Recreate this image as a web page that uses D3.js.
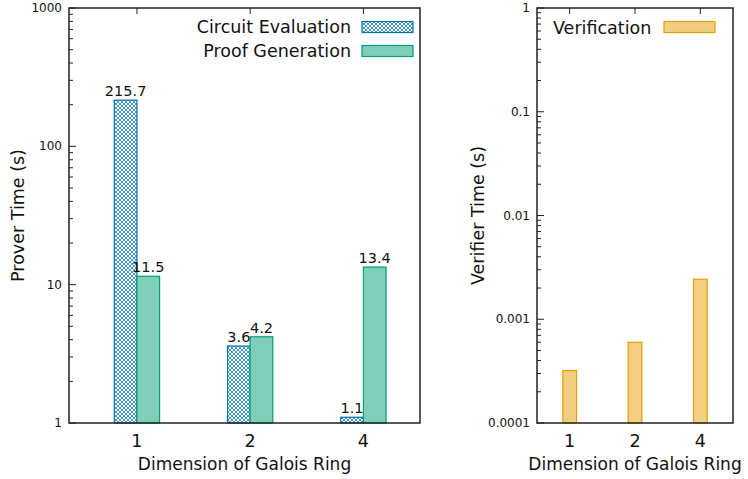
<!DOCTYPE html>
<html>
<head>
<meta charset="utf-8">
<script src="https://cdn.jsdelivr.net/npm/d3@7"></script>
<style>
  body { margin: 0; background: #fff; }
  text { font-family: "DejaVu Sans", sans-serif; fill: #111; }
</style>
</head>
<body>
<svg id="chart" width="748" height="479"></svg>
<script>
// data
const dims = ["1", "2", "4"];
const circuitEval = [215.7, 3.6, 1.1];
const proofGen = [11.5, 4.2, 13.4];
const verification = [0.00032, 0.0006, 0.00243];
const proverTicks = [1, 10, 100, 1000];
const verifierTicks = [0.0001, 0.001, 0.01, 0.1, 1];

const blue = "#0072B2", green = "#009E73", orange = "#E69F00";

const svg = d3.select("#chart");

// crosshatch pattern for the circuit evaluation bars
const defs = svg.append("defs");
const pat = defs.append("pattern")
    .attr("id", "hatch")
    .attr("patternUnits", "userSpaceOnUse")
    .attr("width", 4).attr("height", 4);
pat.append("rect").attr("width", 4).attr("height", 4).attr("fill", "#fff");
pat.append("path")
    .attr("d", "M0,0L4,4M4,0L0,4")
    .attr("stroke", blue).attr("stroke-width", 0.75);

function minorTicks(lo, hi) {
    let out = [];
    for (let e = Math.log10(lo); e < Math.log10(hi); e++) {
        for (let m = 2; m <= 9; m++) out.push(m * Math.pow(10, e));
    }
    return out;
}

function drawPanel(box, yDomain, yTicks, xDomain, fmt) {
    const g = svg.append("g");
    const x = d3.scaleLinear().domain(xDomain).range([box.left, box.right]);
    const y = d3.scaleLog().domain(yDomain).range([box.bottom, box.top]);

    // y ticks (major + minor), inward
    g.selectAll("line.ymaj").data(yTicks).join("line")
        .attr("x1", box.left).attr("x2", box.left + 7)
        .attr("y1", d => y(d)).attr("y2", d => y(d))
        .attr("stroke", "#222").attr("stroke-width", 1);
    g.selectAll("line.ymin").data(minorTicks(yDomain[0], yDomain[1])).join("line")
        .attr("x1", box.left).attr("x2", box.left + 4)
        .attr("y1", d => y(d)).attr("y2", d => y(d))
        .attr("stroke", "#222").attr("stroke-width", 1);
    g.selectAll("text.ylab").data(yTicks).join("text")
        .attr("x", box.left - 7).attr("y", d => y(d) + 4)
        .attr("text-anchor", "end")
        .style("font-size", "12px")
        .text(fmt);

    // x ticks at top (mirror) and labels
    [0, 1, 2].forEach(i => {
        g.append("line")
            .attr("x1", x(i)).attr("x2", x(i))
            .attr("y1", box.top).attr("y2", box.top + 6)
            .attr("stroke", "#222");
        g.append("text")
            .attr("x", x(i)).attr("y", box.bottom + 24)
            .attr("text-anchor", "middle")
            .style("font-size", "17.5px")
            .text(dims[i]);
    });

    g.append("text")
        .attr("x", (box.left + box.right) / 2).attr("y", box.bottom + 47)
        .attr("text-anchor", "middle")
        .style("font-size", "17px")
        .text("Dimension of Galois Ring");

    return { g, x, y };
}

// ---- left panel: prover time
const L = { left: 69, right: 420, top: 8, bottom: 423 };
const p1 = drawPanel(L, [1, 1000], proverTicks, [-0.6, 2.5], d => d);
const bw = 0.2;

p1.g.selectAll("rect.circ").data(circuitEval).join("rect")
    .attr("x", (d, i) => p1.x(i - bw))
    .attr("width", p1.x(bw) - p1.x(0))
    .attr("y", d => p1.y(d))
    .attr("height", d => L.bottom - p1.y(d))
    .attr("fill", "url(#hatch)")
    .attr("stroke", blue).attr("stroke-width", 1.2);

p1.g.selectAll("rect.proof").data(proofGen).join("rect")
    .attr("x", (d, i) => p1.x(i))
    .attr("width", p1.x(bw) - p1.x(0))
    .attr("y", d => p1.y(d))
    .attr("height", d => L.bottom - p1.y(d))
    .attr("fill", "#80CEB9")
    .attr("stroke", green).attr("stroke-width", 1.2);

p1.g.selectAll("text.cl").data(circuitEval).join("text")
    .attr("x", (d, i) => p1.x(i - bw / 2))
    .attr("y", d => p1.y(d) - 4)
    .attr("text-anchor", "middle")
    .style("font-size", "14.5px")
    .text(d => d);
p1.g.selectAll("text.pl").data(proofGen).join("text")
    .attr("x", (d, i) => p1.x(i + bw / 2))
    .attr("y", d => p1.y(d) - 4)
    .attr("text-anchor", "middle")
    .style("font-size", "14.5px")
    .text(d => d);

svg.append("text")
    .attr("transform", "translate(24," + (L.top + L.bottom) / 2 + ") rotate(-90)")
    .attr("text-anchor", "middle")
    .style("font-size", "17.5px")
    .text("Prover Time (s)");

// legend
const leg1 = [
    { name: "Circuit Evaluation", fill: "url(#hatch)", stroke: blue },
    { name: "Proof Generation", fill: "#80CEB9", stroke: green }
];
leg1.forEach((d, i) => {
    const cy = 27 + i * 24;
    svg.append("text").attr("x", 351).attr("y", cy + 6)
        .attr("text-anchor", "end").style("font-size", "17.5px").text(d.name);
    svg.append("rect").attr("x", 362).attr("y", cy - 5.5)
        .attr("width", 51).attr("height", 11)
        .attr("fill", d.fill).attr("stroke", d.stroke).attr("stroke-width", 1.2);
});

svg.append("rect")
    .attr("x", L.left).attr("y", L.top)
    .attr("width", L.right - L.left).attr("height", L.bottom - L.top)
    .attr("fill", "none").attr("stroke", "#222").attr("stroke-width", 1.5);

// ---- right panel: verifier time
const R = { left: 537, right: 733, top: 8, bottom: 423 };
const p2 = drawPanel(R, [0.0001, 1], verifierTicks, [-0.5, 2.5], d => String(d));
const vw = 0.21;

p2.g.selectAll("rect.ver").data(verification).join("rect")
    .attr("x", (d, i) => p2.x(i - vw / 2))
    .attr("width", p2.x(vw) - p2.x(0))
    .attr("y", d => p2.y(d))
    .attr("height", d => R.bottom - p2.y(d))
    .attr("fill", "#F2CF80")
    .attr("stroke", orange).attr("stroke-width", 1.2);

svg.append("text")
    .attr("transform", "translate(484," + (R.top + R.bottom) / 2 + ") rotate(-90)")
    .attr("text-anchor", "middle")
    .style("font-size", "17.5px")
    .text("Verifier Time (s)");

svg.append("text").attr("x", 553).attr("y", 34)
    .style("font-size", "17.5px").text("Verification");
svg.append("rect").attr("x", 664).attr("y", 21.5)
    .attr("width", 51).attr("height", 11)
    .attr("fill", "#F2CF80").attr("stroke", orange).attr("stroke-width", 1.2);

svg.append("rect")
    .attr("x", R.left).attr("y", R.top)
    .attr("width", R.right - R.left).attr("height", R.bottom - R.top)
    .attr("fill", "none").attr("stroke", "#222").attr("stroke-width", 1.5);
</script>
</body>
</html>
